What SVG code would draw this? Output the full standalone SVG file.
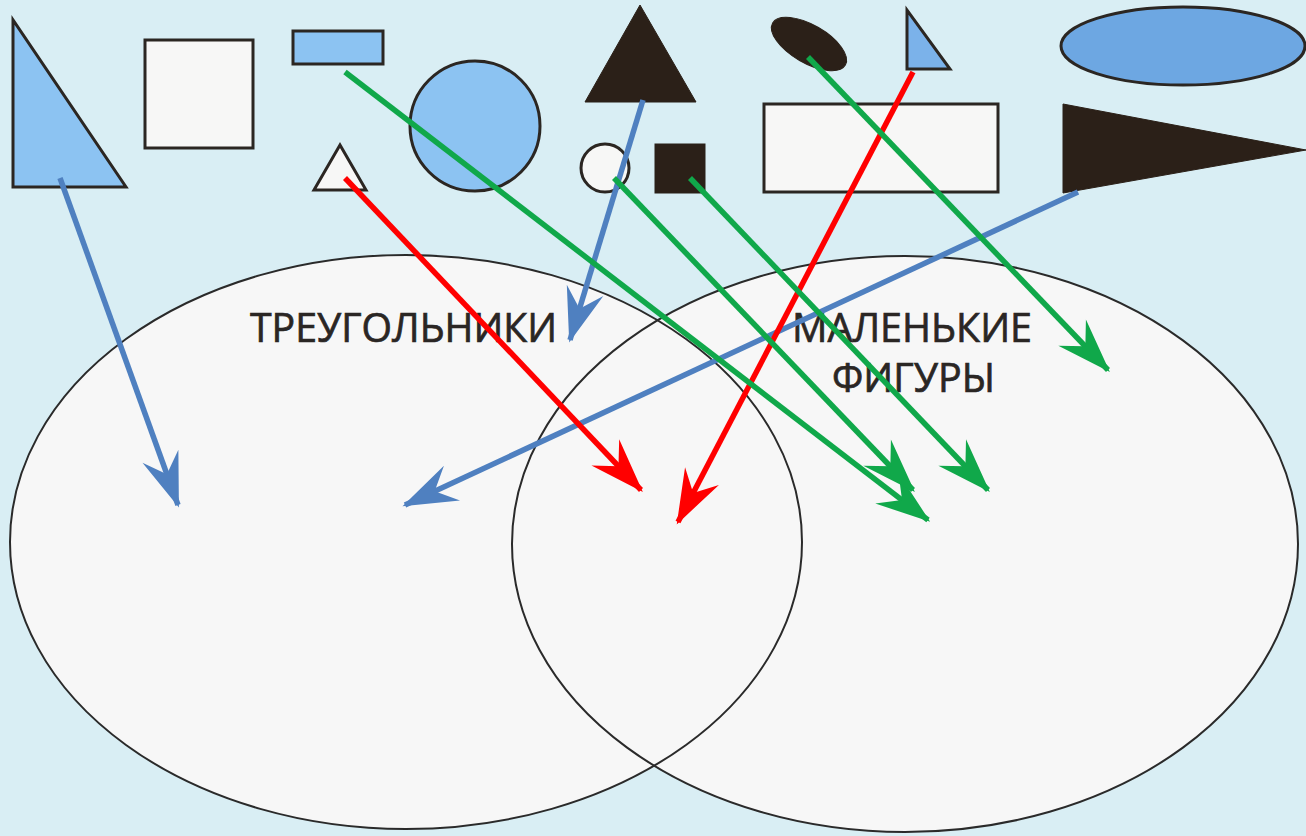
<svg xmlns="http://www.w3.org/2000/svg" width="1306" height="836" viewBox="0 0 1306 836">
<style>
.sh{stroke:#2b2622;stroke-width:3;stroke-linejoin:miter}
.lb{fill:#8cc3f2}
.wh{fill:#f7f7f6}
.bk{fill:#2b2018;stroke:#2b2018}
.ven{fill:#f7f7f7;stroke:none}
.vo{fill:none;stroke:#2a2a2a;stroke-width:2}
.lbl{font-family:"Open Sans","Liberation Sans",sans-serif;font-size:40px;fill:#2a2624;stroke:#2a2624;stroke-width:0.7}
.ar{fill:none;stroke-width:5.5;stroke-linecap:butt}
.blue{stroke:#4f80c0}
.red{stroke:#ff0000}
.green{stroke:#10a84a}
</style>
<defs>
<marker id="mb" markerUnits="userSpaceOnUse" markerWidth="60" markerHeight="60" refX="0" refY="0" viewBox="-40 -20 44 40" orient="auto" overflow="visible"><path d="M2,0 L-38,-14 L-24,0 L-38,14 Z" fill="#4f80c0"/></marker>
<marker id="mr" markerUnits="userSpaceOnUse" markerWidth="60" markerHeight="60" refX="0" refY="0" viewBox="-40 -20 44 40" orient="auto" overflow="visible"><path d="M2,0 L-38,-14 L-24,0 L-38,14 Z" fill="#ff0000"/></marker>
<marker id="mg" markerUnits="userSpaceOnUse" markerWidth="60" markerHeight="60" refX="0" refY="0" viewBox="-40 -20 44 40" orient="auto" overflow="visible"><path d="M2,0 L-38,-14 L-24,0 L-38,14 Z" fill="#10a84a"/></marker>
</defs>
<rect x="0" y="0" width="1306" height="836" fill="#d9eef4"/>
<g id="venn">
<ellipse class="ven" cx="406" cy="542" rx="396" ry="287"/>
<ellipse class="ven" cx="905" cy="544" rx="393" ry="288"/>
<ellipse class="vo" cx="406" cy="542" rx="396" ry="287"/>
<ellipse class="vo" cx="905" cy="544" rx="393" ry="288"/>
</g>
<g id="label-triangles"><text class="lbl" x="250" y="342" textLength="307" lengthAdjust="spacingAndGlyphs">ТРЕУГОЛЬНИКИ</text></g>
<g id="label-small"><text class="lbl" x="792" y="342" textLength="240" lengthAdjust="spacingAndGlyphs">МАЛЕНЬКИЕ</text><text class="lbl" x="832" y="392" textLength="163" lengthAdjust="spacingAndGlyphs">ФИГУРЫ</text></g>
<g id="shape-blue-right-triangle"><polygon class="sh lb" points="13,20 13,187 126,187"/></g>
<g id="shape-white-square"><rect class="sh wh" x="145" y="40" width="108" height="108"/></g>
<g id="shape-blue-rect"><rect class="sh lb" x="293" y="31" width="90" height="33"/></g>
<g id="shape-small-white-triangle"><polygon class="sh wh" points="340,145 314,190 366,190"/></g>
<g id="shape-blue-circle"><circle class="sh lb" cx="475" cy="126" r="65"/></g>
<g id="shape-black-triangle"><polygon class="bk" points="640,5 585,102 696,102"/></g>
<g id="shape-small-white-circle"><circle class="sh wh" cx="605" cy="168" r="24"/></g>
<g id="shape-black-square"><rect class="bk" x="655" y="144" width="50" height="49"/></g>
<g id="shape-black-ellipse"><ellipse class="bk" cx="809" cy="44" rx="42" ry="19" transform="rotate(30 809 44)"/></g>
<g id="shape-white-rect"><rect class="sh wh" x="764" y="104" width="234" height="88"/></g>
<g id="shape-small-blue-triangle"><polygon class="sh" fill="#7bb2ea" points="907,10 907,69 950,69"/></g>
<g id="shape-blue-ellipse"><ellipse class="sh" fill="#6da7e2" cx="1183" cy="46" rx="122" ry="39"/></g>
<g id="shape-black-wedge"><polygon class="bk" points="1063,104 1063,193 1306,150"/></g>
<g id="connectors">
<line class="ar blue" x1="60" y1="178" x2="178" y2="505" marker-end="url(#mb)"/>
<line class="ar blue" x1="643" y1="100" x2="570" y2="340" marker-end="url(#mb)"/>
<line class="ar blue" x1="1078" y1="192" x2="405" y2="505" marker-end="url(#mb)"/>
<line class="ar red" x1="345" y1="178" x2="641" y2="490" marker-end="url(#mr)"/>
<line class="ar red" x1="913" y1="72" x2="678" y2="522" marker-end="url(#mr)"/>
<line class="ar green" x1="345" y1="72" x2="928" y2="520" marker-end="url(#mg)"/>
<line class="ar green" x1="808" y1="57" x2="1108" y2="370" marker-end="url(#mg)"/>
<line class="ar green" x1="614" y1="178" x2="913" y2="490" marker-end="url(#mg)"/>
<line class="ar green" x1="690" y1="178" x2="988" y2="490" marker-end="url(#mg)"/>
</g>
</svg>
